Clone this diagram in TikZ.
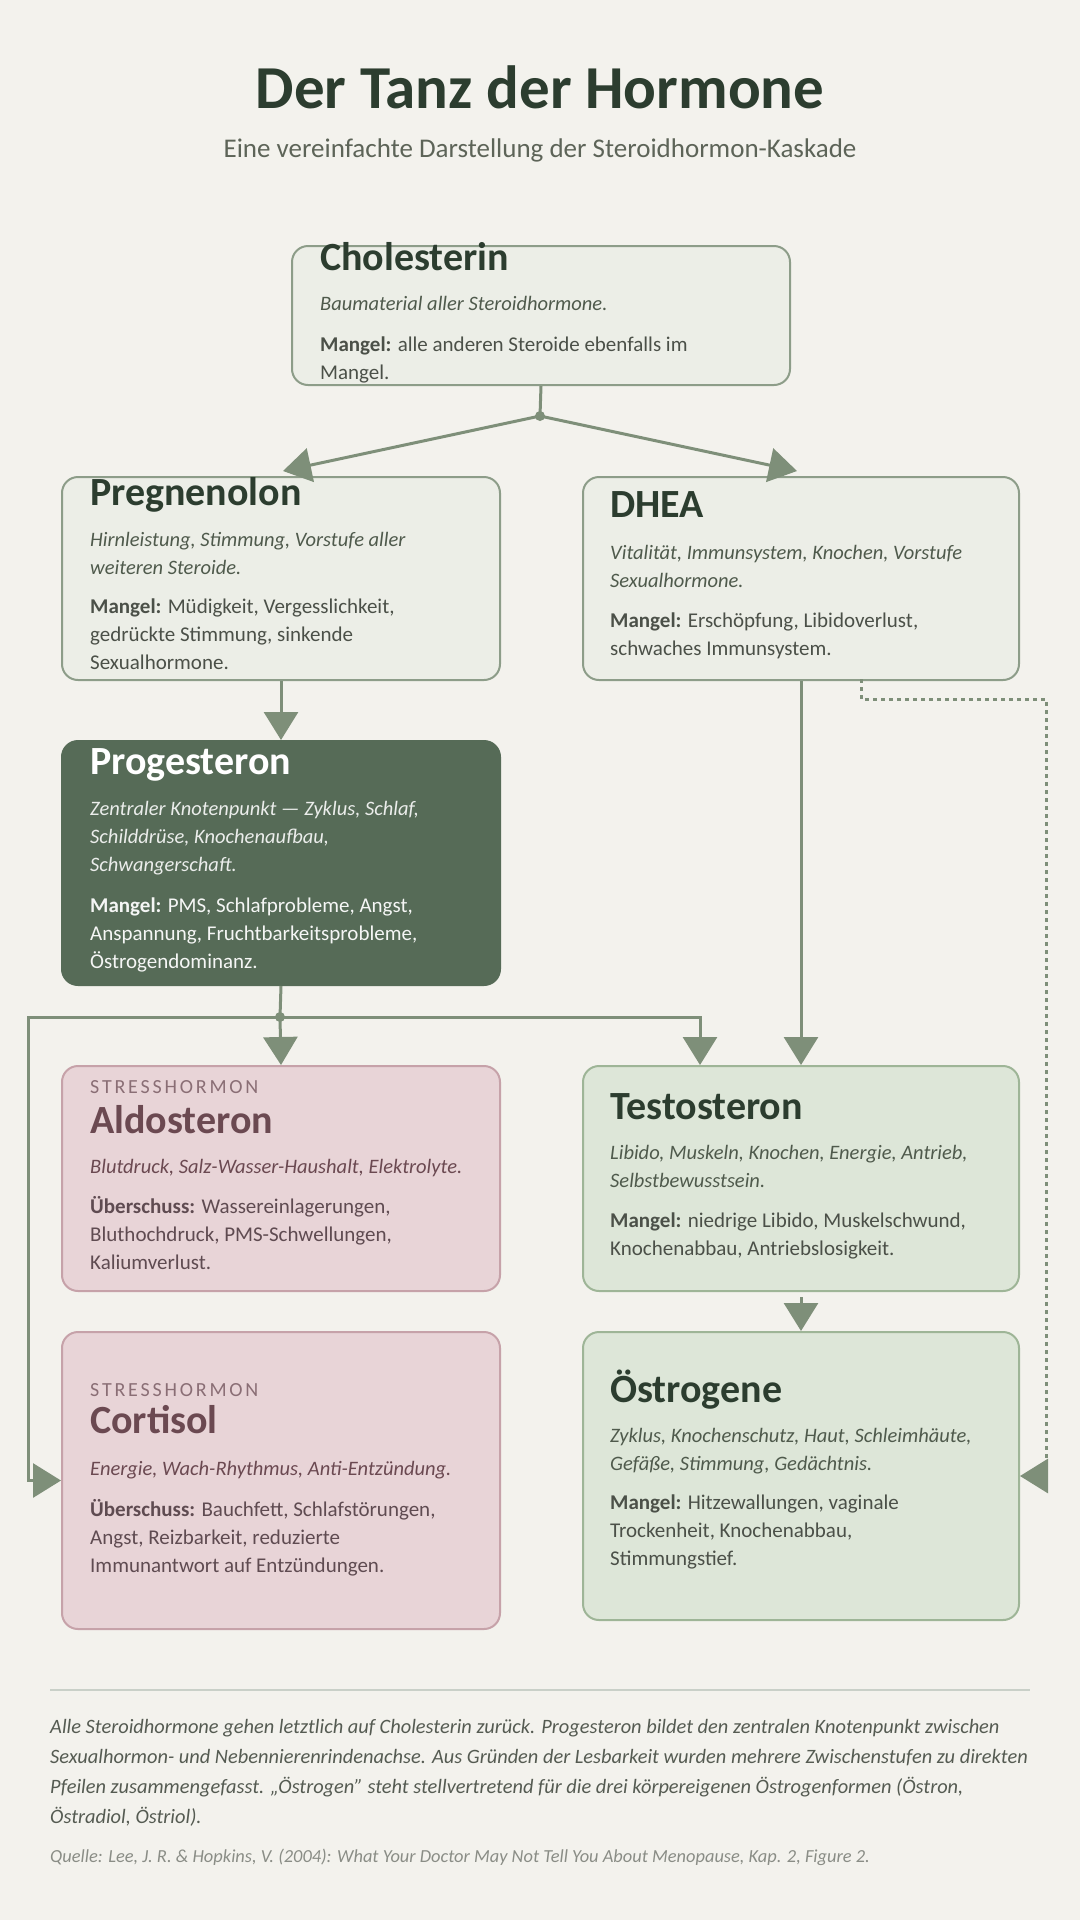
\documentclass[tikz,border=0pt]{standalone}
\usepackage{fontspec}
\setmainfont{Carlito}
\usetikzlibrary{arrows.meta,calc}
\definecolor{bg}{HTML}{F3F2ED}
\definecolor{dark}{HTML}{2C3D2F}
\definecolor{conn}{HTML}{7E8F79}
\definecolor{lightfill}{HTML}{ECEEE7}
\definecolor{lightborder}{HTML}{8D9D89}
\definecolor{progfill}{HTML}{566B57}
\definecolor{pinkfill}{HTML}{E8D4D7}
\definecolor{pinkborder}{HTML}{C6A2A9}
\definecolor{pinktext}{HTML}{6B4951}
\definecolor{pinkbody}{HTML}{5F4B51}
\definecolor{pinklabel}{HTML}{8A6E75}
\definecolor{greenfill}{HTML}{DDE6D8}
\definecolor{greenborder}{HTML}{9EB597}
\definecolor{bodytext}{HTML}{4B5048}
\definecolor{desctext}{HTML}{4F5A4C}
\definecolor{subtext}{HTML}{5D6458}
\definecolor{foottext}{HTML}{555B52}
\definecolor{srctext}{HTML}{8A8D86}
\definecolor{rulecol}{HTML}{C9D0C8}
\begin{document}
\begin{tikzpicture}[x=1pt,y=-1pt,
  box/.style={rectangle, rounded corners=16pt, line width=2pt, inner sep=0pt, anchor=north west},
  lightbox/.style={box, fill=lightfill, draw=lightborder},
  progbox/.style={box, fill=progfill, draw=progfill},
  pinkbox/.style={box, fill=pinkfill, draw=pinkborder},
  greenbox/.style={box, fill=greenfill, draw=greenborder},
  txt/.style={inner sep=0pt, anchor=base west, align=left},
  ttl/.style={txt, font=\fontsize{40}{44}\selectfont\bfseries, text=dark},
  desc/.style={txt, font=\fontsize{20.5}{28}\selectfont\itshape, text=desctext},
  body/.style={txt, font=\fontsize{21}{28}\selectfont, text=bodytext},
  lbl/.style={txt, font=\fontsize{20}{22}\selectfont\addfontfeatures{LetterSpace=14}, text=pinklabel},
  conline/.style={draw=conn, line width=3pt},
  arr/.style={conline, -{Triangle[length=28pt,width=34pt]}},
  dot/.style={circle, fill=conn, inner sep=0pt, minimum size=10pt}
]
\fill[bg] (0,0) rectangle (1080,1920);
\useasboundingbox (0,0) rectangle (1080,1920);

% title
\node[inner sep=0pt, anchor=base, font=\fontsize{61}{66}\selectfont\bfseries, text=dark] (title) at (540,108) {Der Tanz der Hormone};
\node[inner sep=0pt, anchor=base, font=\fontsize{27}{30}\selectfont, text=subtext] (subtitle) at (540,157) {Eine vereinfachte Darstellung der Steroidhormon-Kaskade};

% boxes
\node[lightbox, minimum width=498pt, minimum height=139pt] (chol) at (291,245) {};
\node[lightbox, minimum width=438pt, minimum height=203pt] (preg) at (61,476) {};
\node[lightbox, minimum width=436pt, minimum height=203pt] (dhea) at (582,476) {};
\node[progbox, minimum width=438pt, minimum height=244pt] (prog) at (61,740) {};
\node[pinkbox, minimum width=438pt, minimum height=225pt] (aldo) at (61,1065) {};
\node[greenbox, minimum width=436pt, minimum height=225pt] (testo) at (582,1065) {};
\node[pinkbox, minimum width=438pt, minimum height=297pt] (cort) at (61,1331) {};
\node[greenbox, minimum width=436pt, minimum height=288pt] (oest) at (582,1331) {};

% (multi-line nodes are placed at the baseline of their last line)
% Cholesterin
\node[ttl] (cholt) at (320,270) {Cholesterin};
\node[desc] (chold) at (320,310) {Baumaterial aller Steroidhormone.};
\node[body] (cholb) at (320,379) {\textbf{Mangel:} alle anderen Steroide ebenfalls im\\Mangel.};

% Pregnenolon
\node[ttl] (pregt) at (90,505) {Pregnenolon};
\node[desc] (pregd) at (90,574) {Hirnleistung, Stimmung, Vorstufe aller\\weiteren Steroide.};
\node[body] (pregb) at (90,669) {\textbf{Mangel:} Müdigkeit, Vergesslichkeit,\\gedrückte Stimmung, sinkende\\Sexualhormone.};

% DHEA
\node[ttl] (dheat) at (610,517) {DHEA};
\node[desc] (dhead) at (610,587) {Vitalität, Immunsystem, Knochen, Vorstufe\\Sexualhormone.};
\node[body] (dheab) at (610,655) {\textbf{Mangel:} Erschöpfung, Libidoverlust,\\schwaches Immunsystem.};

% Progesteron
\node[ttl, text=white] (progt) at (90,774) {Progesteron};
\node[desc, text=white!88!progfill] (progd) at (90,871) {Zentraler Knotenpunkt — Zyklus, Schlaf,\\Schilddrüse, Knochenaufbau,\\Schwangerschaft.};
\node[body, text=white!94!progfill] (progb) at (90,968) {\textbf{Mangel:} PMS, Schlafprobleme, Angst,\\Anspannung, Fruchtbarkeitsprobleme,\\Östrogendominanz.};

% Aldosteron
\node[lbl] (aldol) at (90,1093) {STRESSHORMON};
\node[ttl, text=pinktext] (aldot) at (90,1133) {Aldosteron};
\node[desc, text=pinktext] (aldod) at (90,1173) {Blutdruck, Salz-Wasser-Haushalt, Elektrolyte.};
\node[body, text=pinkbody] (aldob) at (90,1269) {\textbf{Überschuss:} Wassereinlagerungen,\\Bluthochdruck, PMS-Schwellungen,\\Kaliumverlust.};

% Cortisol
\node[lbl] (cortl) at (90,1396) {STRESSHORMON};
\node[ttl, text=pinktext] (cortt) at (90,1433) {Cortisol};
\node[desc, text=pinktext] (cortd) at (90,1475) {Energie, Wach-Rhythmus, Anti-Entzündung.};
\node[body, text=pinkbody] (cortb) at (90,1572) {\textbf{Überschuss:} Bauchfett, Schlafstörungen,\\Angst, Reizbarkeit, reduzierte\\Immunantwort auf Entzündungen.};

% Testosteron
\node[ttl] (testot) at (610,1119) {Testosteron};
\node[desc] (testod) at (610,1187) {Libido, Muskeln, Knochen, Energie, Antrieb,\\Selbstbewusstsein.};
\node[body] (testob) at (610,1255) {\textbf{Mangel:} niedrige Libido, Muskelschwund,\\Knochenabbau, Antriebslosigkeit.};

% Oestrogene
\node[ttl] (oestt) at (610,1402) {Östrogene};
\node[desc] (oestd) at (610,1470) {Zyklus, Knochenschutz, Haut, Schleimhäute,\\Gefäße, Stimmung, Gedächtnis.};
\node[body] (oestb) at (610,1565) {\textbf{Mangel:} Hitzewallungen, vaginale\\Trockenheit, Knochenabbau,\\Stimmungstief.};

% connectors
\coordinate (split) at (540,416);
\coordinate (pregin) at (283,471);
\coordinate (dheain) at (797,471);
\draw[conline] (chol.south) -- (split);
\draw[arr] (split) -- (pregin);
\draw[arr] (split) -- (dheain);
\node[dot] (splitdot) at (split) {};

\draw[arr] (preg.south) -- (prog.north);

\coordinate (hub) at (280,1017);
\coordinate (leftrail) at (28,1017);
\coordinate (testoin) at (700,1065);
\draw[conline] (prog.south) -- (hub);
\draw[arr] (hub) -- (aldo.north);
\draw[arr] (hub) -| (testoin);
\draw[arr] (hub) -- (leftrail) |- (cort.west);
\node[dot] (hubdot) at (hub) {};

\draw[arr] (dhea.south) -- (testo.north);
\draw[arr, shorten <=5pt] (testo.south) -- (oest.north);

\coordinate (dotstart) at (861,679);
\coordinate (dotcorner) at (1046,699);
\draw[arr, dash pattern=on 3.5pt off 4.5pt] (dotstart) |- (dotcorner) |- (oest.east);

% footer
\coordinate (ruleL) at (50,1690);
\coordinate (ruleR) at (1030,1690);
\draw[rulecol, line width=1.5pt] (ruleL) -- (ruleR);
\node[txt, font=\fontsize{20.4}{30}\selectfont\itshape, text=foottext] (foot) at (50,1823) {Alle Steroidhormone gehen letztlich auf Cholesterin zurück. Progesteron bildet den zentralen Knotenpunkt zwischen\\Sexualhormon- und Nebennierenrindenachse. Aus Gründen der Lesbarkeit wurden mehrere Zwischenstufen zu direkten\\Pfeilen zusammengefasst. „Östrogen" steht stellvertretend für die drei körpereigenen Östrogenformen (Östron,\\Östradiol, Östriol).};
\node[txt, font=\fontsize{18.4}{22}\selectfont\itshape, text=srctext] (src) at (50,1862) {Quelle: Lee, J. R. \& Hopkins, V. (2004): What Your Doctor May Not Tell You About Menopause, Kap. 2, Figure 2.};
\end{tikzpicture}
\end{document}
